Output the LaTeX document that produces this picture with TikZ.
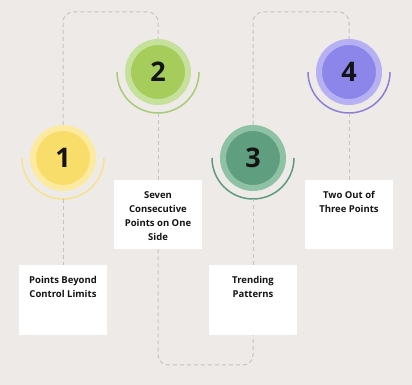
\documentclass[tikz,border=0pt]{standalone}
\usepackage{fontspec}
\setmainfont{Open Sans}
\usepackage{tikz}
\usetikzlibrary{positioning, calc}
\definecolor{bg}{HTML}{EEEAE8}
\definecolor{linkgray}{HTML}{C8C3C3}
\definecolor{numblack}{HTML}{141414}
\definecolor{oneinner}{HTML}{F9DD6B}
\definecolor{oneouter}{HTML}{FBEA9F}
\definecolor{onearc}{HTML}{F7E28E}
\definecolor{twoinner}{HTML}{A6CC5C}
\definecolor{twoouter}{HTML}{C6E19C}
\definecolor{twoarc}{HTML}{AACB76}
\definecolor{threeinner}{HTML}{5F9E7E}
\definecolor{threeouter}{HTML}{8FC2A5}
\definecolor{threearc}{HTML}{5E9B7C}
\definecolor{fourinner}{HTML}{8D86EA}
\definecolor{fourouter}{HTML}{B6B1F3}
\definecolor{fourarc}{HTML}{8A80D6}
\tikzset{
    link line/.style={draw=linkgray, line width=1pt,
      dash pattern=on 4pt off 3pt, rounded corners=10pt},
    step circle/.style={circle, minimum size=60pt, line width=6pt,
      inner sep=0pt, text=numblack,
      font=\bfseries\fontsize{27}{27}\selectfont},
    guard arc/.style={line width=1.5pt},
    label box/.style={fill=white, minimum width=88pt, inner sep=0pt,
      anchor=north},
    box text/.style={align=center, inner sep=0pt, text=numblack,
      font=\bfseries\fontsize{9.5}{14}\selectfont}
}

\begin{document}
\begin{tikzpicture}[x=1pt, y=1pt]
  \fill[bg] (0,0) rectangle (412,385);
  \useasboundingbox (0,0) rectangle (412,385);

  \coordinate (top) at (0,373);
  \coordinate (bottom) at (0,20);

  % circles
  \node[step circle, fill=oneinner, draw=oneouter] (c1) at (63,227) {1};
  \node[step circle, fill=twoinner, draw=twoouter] (c2) at (158,313) {2};
  \node[step circle, fill=threeinner, draw=threeouter] (c3) at (253,227) {3};
  \node[step circle, fill=fourinner, draw=fourouter] (c4) at (349,313) {4};

  % arcs under the circles
  \draw[guard arc, draw=onearc] ($(c1)+(-41,0)$)
    arc[start angle=180, end angle=360, radius=41];
  \draw[guard arc, draw=twoarc] ($(c2)+(-41,0)$)
    arc[start angle=180, end angle=360, radius=41];
  \draw[guard arc, draw=threearc] ($(c3)+(-41,0)$)
    arc[start angle=180, end angle=360, radius=41];
  \draw[guard arc, draw=fourarc] ($(c4)+(-41,0)$)
    arc[start angle=180, end angle=360, radius=41];
  \coordinate (a1) at ($(c1)+(0,-41)$);
  \coordinate (a2) at ($(c2)+(0,-41)$);
  \coordinate (a3) at ($(c3)+(0,-41)$);
  \coordinate (a4) at ($(c4)+(0,-41)$);

  % boxes
  \node[label box, minimum height=70pt] (b1) at (63,120) {};
  \node[label box, minimum height=69pt] (b2) at (158,205) {};
  \node[label box, minimum height=70pt] (b3) at (253,120) {};
  \node[label box, minimum height=69pt] (b4) at (349,205) {};

  \node[box text, below=11pt of b1.north] (t1) {Points Beyond\\Control Limits};
  \node[box text, below=11pt of b2.north] (t2)
  {Seven\\Consecutive\\Points on One\\Side};
  \node[box text, below=11pt of b3.north] (t3) {Trending\\Patterns};
  \node[box text, below=11pt of b4.north] (t4) {Two Out of\\Three Points};

  % links
  \draw[link line] (c1.north) |- (c2.north |- top) -- (c2.north);
  \draw[link line] (a1) -- (b1.north);
  \draw[link line] (a2) -- (b2.north);
  \draw[link line] (b2.south) |- (b3.south |- bottom) -- (b3.south);
  \draw[link line] (b3.north) -- (a3);
  \draw[link line] (c3.north) |- (c4.north |- top) -- (c4.north);
  \draw[link line] (a4) -- (b4.north);

\end{tikzpicture}
\end{document}
